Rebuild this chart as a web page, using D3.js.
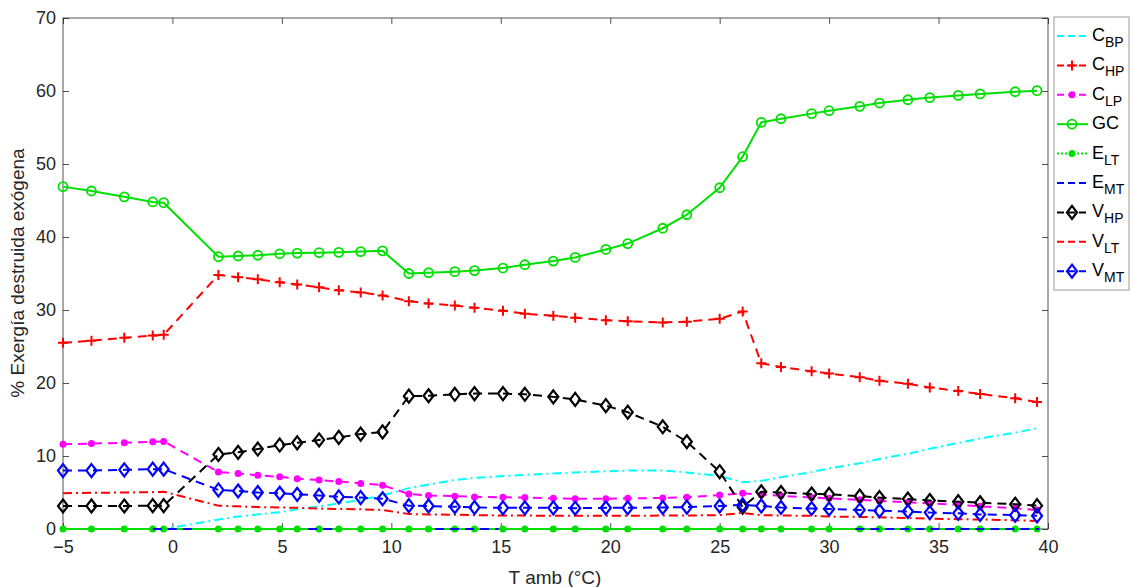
<!DOCTYPE html>
<html><head><meta charset="utf-8">
<script src="https://cdn.jsdelivr.net/npm/d3@7"></script>
<style>body{margin:0;background:#fff}svg{display:block}text{font-family:"Liberation Sans",Arial,sans-serif}</style>
</head><body><svg id="c" width="1132" height="587"></svg>
<script>
const tAmb = [-5, -3.7, -2.2, -0.9, -0.4, 2.1, 3.0, 3.9, 4.9, 5.7, 6.7, 7.6, 8.6, 9.6, 10.8, 11.7, 12.9, 13.8, 15.1, 16.1, 17.4, 18.4, 19.8, 20.8, 22.4, 23.5, 25.0, 26.05, 26.9, 27.8, 29.2, 30.0, 31.4, 32.3, 33.6, 34.6, 35.9, 36.9, 38.5, 39.5];
const C_BP = [0, 0, 0, 0, 0, 1.3, 1.7, 2.0, 2.3, 2.7, 3.1, 3.5, 4.0, 4.6, 5.6, 6.1, 6.7, 7.0, 7.25, 7.4, 7.6, 7.75, 7.9, 8.0, 8.0, 7.75, 7.25, 6.4, 6.6, 7.1, 7.8, 8.3, 9.0, 9.6, 10.3, 11.0, 11.8, 12.4, 13.2, 13.8];
const C_HP = [25.5, 25.8, 26.2, 26.5, 26.6, 34.8, 34.5, 34.2, 33.8, 33.5, 33.1, 32.7, 32.4, 32.0, 31.2, 30.9, 30.6, 30.3, 29.9, 29.5, 29.2, 28.95, 28.6, 28.45, 28.3, 28.4, 28.8, 29.8, 22.7, 22.2, 21.6, 21.3, 20.8, 20.3, 19.9, 19.4, 18.9, 18.5, 17.9, 17.4];
const C_LP = [11.6, 11.7, 11.8, 11.95, 12.0, 7.8, 7.6, 7.35, 7.15, 6.9, 6.7, 6.5, 6.25, 6.0, 4.8, 4.6, 4.5, 4.4, 4.35, 4.3, 4.2, 4.15, 4.15, 4.2, 4.25, 4.35, 4.65, 4.9, 4.7, 4.55, 4.3, 4.2, 4.0, 3.85, 3.65, 3.5, 3.3, 3.1, 2.85, 2.6];
const GC = [46.9, 46.3, 45.5, 44.8, 44.7, 37.3, 37.4, 37.5, 37.7, 37.8, 37.85, 37.9, 38.0, 38.1, 35.0, 35.1, 35.25, 35.4, 35.75, 36.2, 36.7, 37.2, 38.3, 39.1, 41.2, 43.05, 46.75, 51.0, 55.7, 56.2, 56.9, 57.3, 57.9, 58.35, 58.8, 59.1, 59.4, 59.6, 59.9, 60.05];
const E_LT = tAmb.map(() => 0);
const E_MT_x = [-0.9, 0.9, null, 6.2, 7.3, null, 12.0, 14.9, null, 31.2, 39.6];
const E_MT = [0, 0, null, 0, 0, null, 0, 0, null, 0, 0];
const V_HP = [3.15, 3.15, 3.15, 3.2, 3.2, 10.2, 10.5, 10.95, 11.5, 11.8, 12.2, 12.55, 13.0, 13.3, 18.2, 18.25, 18.45, 18.55, 18.55, 18.45, 18.1, 17.75, 16.9, 16.0, 14.0, 11.95, 7.85, 3.0, 5.1, 5.0, 4.8, 4.75, 4.5, 4.3, 4.1, 3.9, 3.75, 3.6, 3.4, 3.2];
const V_LT = [4.9, 4.95, 5.0, 5.05, 5.1, 3.2, 3.1, 3.0, 2.95, 2.9, 2.8, 2.75, 2.7, 2.6, 2.05, 2.0, 1.95, 1.9, 1.85, 1.85, 1.8, 1.8, 1.8, 1.8, 1.85, 1.85, 1.9, 2.2, 1.9, 1.85, 1.8, 1.7, 1.65, 1.6, 1.5, 1.4, 1.35, 1.3, 1.2, 1.1];
const V_MT = [8.0, 8.0, 8.1, 8.2, 8.2, 5.35, 5.2, 5.0, 4.9, 4.75, 4.6, 4.4, 4.3, 4.15, 3.2, 3.15, 3.05, 2.95, 2.9, 2.9, 2.9, 2.85, 2.9, 2.9, 2.95, 3.0, 3.15, 3.3, 3.15, 2.95, 2.8, 2.75, 2.6, 2.5, 2.4, 2.25, 2.15, 2.0, 1.9, 1.8];
const xTicks = [-5, 0, 5, 10, 15, 20, 25, 30, 35, 40];
const yTicks = [0, 10, 20, 30, 40, 50, 60, 70];
const legendMain = ["C", "C", "C", "GC", "E", "E", "V", "V", "V"];
const legendSub = ["BP", "HP", "LP", "", "LT", "MT", "HP", "LT", "MT"];

const svg = d3.select("#c");
const L = 63, R = 1048, T = 18, B = 529;
const x = d3.scaleLinear().domain([-5, 40]).range([L, R]);
const y = d3.scaleLinear().domain([0, 70]).range([B, T]);
const axisCol = "#262626";

const series = [
  {name: "C_BP", xs: tAmb, ys: C_BP, color: "#00FFFF", dash: "9,4,2,4", marker: null},
  {name: "C_HP", xs: tAmb, ys: C_HP, color: "#FF0000", dash: "9,6", marker: "plus"},
  {name: "C_LP", xs: tAmb, ys: C_LP, color: "#FF00FF", dash: "9,6", marker: "dot"},
  {name: "GC", xs: tAmb, ys: GC, color: "#00E000", dash: null, marker: "circle"},
  {name: "E_LT", xs: tAmb, ys: E_LT, color: "#00E000", dash: null, marker: "dot"},
  {name: "E_MT", xs: E_MT_x, ys: E_MT, color: "#0000FF", dash: "9,6", marker: null},
  {name: "V_HP", xs: tAmb, ys: V_HP, color: "#000000", dash: "9,6", marker: "diamond"},
  {name: "V_LT", xs: tAmb, ys: V_LT, color: "#FF0000", dash: "9,4,2,4", marker: null},
  {name: "V_MT", xs: tAmb, ys: V_MT, color: "#0000FF", dash: "9,6", marker: "diamond"}
];

svg.append("rect").attr("x", L).attr("y", T).attr("width", R - L).attr("height", B - T)
  .attr("fill", "none").attr("stroke", axisCol).attr("stroke-width", 0.8);

const gx = svg.append("g").attr("transform", `translate(0,${B})`)
  .call(d3.axisBottom(x).tickValues(xTicks).tickSizeInner(-6).tickSizeOuter(0).tickPadding(11));
const gxt = svg.append("g").attr("transform", `translate(0,${T})`)
  .call(d3.axisTop(x).tickValues(xTicks).tickSizeInner(-6).tickSizeOuter(0).tickFormat(""));
const gy = svg.append("g").attr("transform", `translate(${L},0)`)
  .call(d3.axisLeft(y).tickValues(yTicks).tickSizeInner(-6).tickSizeOuter(0).tickPadding(7));
const gyr = svg.append("g").attr("transform", `translate(${R},0)`)
  .call(d3.axisRight(y).tickValues(yTicks).tickSizeInner(-6).tickSizeOuter(0).tickFormat(""));
[gx, gxt, gy, gyr].forEach(g => {
  g.select(".domain").remove();
  g.selectAll(".tick line").attr("stroke", axisCol).attr("stroke-width", 0.8);
  g.selectAll("text").attr("fill", axisCol).style("font-size", "18px").style("font-family", '"Liberation Sans",Arial,sans-serif');
});

svg.append("text").attr("x", 555).attr("y", 584).attr("text-anchor", "middle")
  .attr("fill", axisCol).style("font-size", "19px").text("T amb (°C)");
svg.append("text").attr("transform", "translate(24,273) rotate(-90)").attr("text-anchor", "middle")
  .attr("fill", axisCol).style("font-size", "19px").text("% Exergía destruida exógena");

function drawMarker(g, type, cx, cy, color) {
  if (type === "plus") {
    g.append("path").attr("d", `M${cx - 5},${cy}H${cx + 5}M${cx},${cy - 5}V${cy + 5}`)
      .attr("stroke", color).attr("stroke-width", 2).attr("fill", "none");
  } else if (type === "dot") {
    g.append("circle").attr("cx", cx).attr("cy", cy).attr("r", 3.5).attr("fill", color);
  } else if (type === "circle") {
    g.append("circle").attr("cx", cx).attr("cy", cy).attr("r", 4.5).attr("fill", "none")
      .attr("stroke", color).attr("stroke-width", 1.8);
  } else if (type === "diamond") {
    g.append("path").attr("d", `M${cx},${cy - 6.5}L${cx + 5},${cy}L${cx},${cy + 6.5}L${cx - 5},${cy}Z`)
      .attr("stroke", color).attr("stroke-width", 2.2).attr("fill", "none");
  }
}

const line = d3.line().defined(d => d[0] !== null && d[1] !== null).x(d => x(d[0])).y(d => y(d[1]));
const plotG = svg.append("g");
series.forEach(s => {
  const pts = s.xs.map((v, i) => [v, s.ys[i]]);
  const g = plotG.append("g");
  g.append("path").attr("d", line(pts)).attr("fill", "none").attr("stroke", s.color)
    .attr("stroke-width", 2).attr("stroke-dasharray", s.dash);
  if (s.marker) pts.filter(p => p[0] !== null).forEach(p => drawMarker(g, s.marker, x(p[0]), y(p[1]), s.color));
});

const lg = svg.append("g");
lg.append("rect").attr("x", 1054).attr("y", 17).attr("width", 75).attr("height", 273)
  .attr("fill", "#fff").attr("stroke", "#999").attr("stroke-width", 1);
series.forEach((s, i) => {
  const ly = 36 + i * 29.4;
  lg.append("path").attr("d", `M1057,${ly}H1088`).attr("stroke", s.color).attr("stroke-width", 2)
    .attr("fill", "none").attr("stroke-dasharray", s.name === "E_LT" ? "2,2" : (s.dash ? "7,4" : null));
  if (s.marker) drawMarker(lg, s.marker, 1072, ly, s.color);
  const t = lg.append("text").attr("x", 1092).attr("y", ly + 5).attr("fill", "#000").style("font-size", "18px");
  t.append("tspan").text(legendMain[i]);
  if (legendSub[i]) t.append("tspan").attr("dy", 6).style("font-size", "14px").text(legendSub[i]);
});
</script></body></html>
